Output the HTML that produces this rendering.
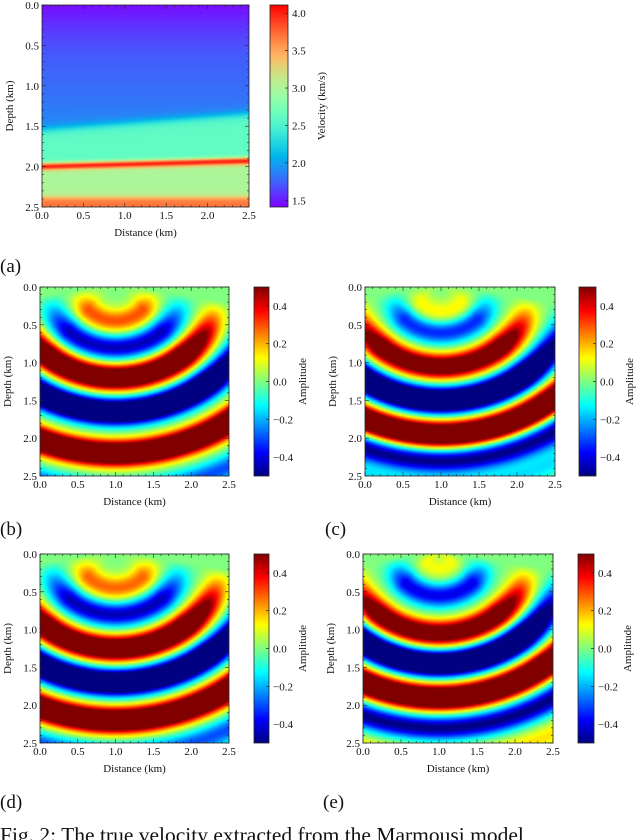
<!DOCTYPE html>
<html><head><meta charset="utf-8"><style>
html,body{margin:0;padding:0;background:#fff;width:640px;height:840px;overflow:hidden}
#wrap{position:relative;width:640px;height:840px}
canvas{position:absolute;image-rendering:auto}
svg{position:absolute;left:0;top:0}
text{font-family:"Liberation Serif",serif;fill:#111}
</style></head><body>
<div id="wrap">
<svg id="svg" width="640" height="840"></svg>
</div>
<script>
// ---- data ----
const depthTicks = [0.0, 0.5, 1.0, 1.5, 2.0, 2.5];
const distTicks = [0.0, 0.5, 1.0, 1.5, 2.0, 2.5];
const velTicks = [1.5, 2.0, 2.5, 3.0, 3.5, 4.0];
const ampTicks = [-0.4, -0.2, 0.0, 0.2, 0.4];
const velRange = [1.41, 4.11];
const ampRange = [-0.5, 0.5];
// velocity model (depths in km at x=0 and x=2.5)
const topGradDepth = [0.0, 0.3, 0.6, 1.2, 1.5];
const topGradVel = [1.45, 1.6, 1.72, 1.82, 1.9];
const boundaryLeft = [1.55, 2.0, 2.38];
const boundaryRight = [1.35, 1.93, 2.38];
const layerVel = [2.6, 3.0, 3.7];
const bandVel = 4.02;
// wavefield rings (radius km, amplitude)
const ringRadiusB = [0.40, 0.75, 1.15, 1.60, 2.15, 2.65];
const ringAmpB = [0.3, -0.45, 0.85, -0.95, 0.95, -0.3];
const ringRadiusC = [0.30, 0.55, 1.00, 1.45, 1.90, 2.25, 2.60];
const ringAmpC = [0.15, -0.35, 0.7, -0.95, 0.95, -0.5, -0.15];
const ringRadiusD = [0.40, 0.75, 1.20, 1.65, 2.15, 2.60];
const ringAmpD = [0.28, -0.45, 0.85, -0.95, 0.95, -0.3];
const ringRadiusE = [0.15, 0.50, 1.00, 1.40, 1.85, 2.25, 2.65];
const ringAmpE = [0.12, -0.4, 0.7, -0.95, 0.95, -0.5, 0.15];

const NS='http://www.w3.org/2000/svg';
const svg=document.getElementById('svg');
const wrap=document.getElementById('wrap');
function mk(tag,attrs,parent){const e=document.createElementNS(NS,tag);for(const k in attrs)e.setAttribute(k,attrs[k]);(parent||svg).appendChild(e);return e;}
function txt(s,x,y,size,anchor,parent,rot){const t=mk('text',{x:x,y:y,'font-size':size,'text-anchor':anchor||'middle'},parent);if(rot)t.setAttribute('transform','rotate(-90 '+x+' '+y+')');t.textContent=s;return t;}
const cl=v=>Math.max(0,Math.min(1,v));
function jet(t){t=cl(t);const r=cl(1.5-Math.abs(4*t-3)),g=cl(1.5-Math.abs(4*t-2)),b=cl(1.5-Math.abs(4*t-1));return[r*255,g*255,b*255];}
function rainbow(t){t=cl(t);return[cl(Math.abs(2*t-0.5))*255,cl(Math.sin(Math.PI*t))*255,cl(Math.cos(Math.PI/2*t))*255];}
const sig=v=>1/(1+Math.exp(-v));
function interp(xs,ys,x){if(x<=xs[0])return ys[0];for(let i=1;i<xs.length;i++){if(x<=xs[i]){const f=(x-xs[i-1])/(xs[i]-xs[i-1]);return ys[i-1]+f*(ys[i]-ys[i-1]);}}return ys[ys.length-1];}
function velocity(x,z){const t=x/2.5;const b=boundaryLeft.map((v,i)=>v+t*(boundaryRight[i]-v));
 let base=interp(topGradDepth,topGradVel,z);
 base+= (layerVel[0]-base)*sig((z-b[0])/0.03);
 base+= (layerVel[1]-layerVel[0])*sig((z-b[1])/0.02);
 base+= (layerVel[2]-layerVel[1])*sig((z-b[2])/0.02);
 return base+(bandVel-base)*Math.exp(-Math.pow((z-b[1])/0.045,2));}
function wave(radii,amps){return function(x,z){const dx=(x-1.0)*0.85,dz=z-0.05;const r=Math.sqrt(dx*dx+dz*dz);let s=0;for(let i=0;i<radii.length;i++)s+=amps[i]*Math.exp(-Math.pow((r-radii[i])/0.16,2));const f=cl(((dz+0.1)/(r+0.01)-0.2)*1.6);return s*f;};}

function heat(name,x0,y0,w,h,fn,cmap,range){const c=document.createElement('canvas');c.width=125;c.height=125;c.style.left=x0+'px';c.style.top=y0+'px';c.style.width=w+'px';c.style.height=h+'px';
 
 
 wrap.insertBefore(c,svg);const ctx=c.getContext('2d');const im=ctx.createImageData(125,125);
 for(let j=0;j<125;j++)for(let i=0;i<125;i++){const x=(i+0.5)/125*2.5,z=(j+0.5)/125*2.5;const v=fn(x,z);const col=cmap((v-range[0])/(range[1]-range[0]));const k=(j*125+i)*4;im.data[k]=col[0];im.data[k+1]=col[1];im.data[k+2]=col[2];im.data[k+3]=255;}
 ctx.putImageData(im,0,0);}
function cbar(name,x0,y0,w,h,cmap,range,ticks,fmt,label,g){const c=document.createElement('canvas');c.width=1;c.height=200;c.style.left=x0+'px';c.style.top=y0+'px';c.style.width=w+'px';c.style.height=h+'px';
 
 
 wrap.insertBefore(c,svg);const ctx=c.getContext('2d');for(let j=0;j<200;j++){const col=cmap(1-(j+0.5)/200);ctx.fillStyle='rgb('+col.map(Math.round).join(',')+')';ctx.fillRect(0,j,1,1);}
 mk('rect',{x:x0,y:y0,width:w,height:h,fill:'none',stroke:'#222','stroke-width':0.8},g);
 const ys=v=>y0+h-(v-range[0])/(range[1]-range[0])*h;
 ticks.forEach(v=>{const y=ys(v);mk('line',{x1:x0+w-3,x2:x0+w,y1:y,y2:y,stroke:'#222','stroke-width':0.7},g);const t=txt(fmt(v),x0+w+4,y+4,11,'start',g);
  
  });
 const l=txt(label,x0+w+37,y0+h/2,11,'middle',g,true);
 
 }
function axes(x0,y0,w,h,g){mk('rect',{x:x0,y:y0,width:w,height:h,fill:'none',stroke:'#222','stroke-width':0.8},g);
 const xs=v=>x0+v/2.5*w,ys=v=>y0+v/2.5*h;
 for(let k=0;k<=25;k++){const v=k/10,len=k%5===0?4:2;const X=xs(v),Y=ys(v);
  mk('line',{x1:X,x2:X,y1:y0+h,y2:y0+h-len,stroke:'#222','stroke-width':0.6},g);
  mk('line',{x1:X,x2:X,y1:y0,y2:y0+len,stroke:'#222','stroke-width':0.6},g);
  mk('line',{x1:x0,x2:x0+len,y1:Y,y2:Y,stroke:'#222','stroke-width':0.6},g);
  mk('line',{x1:x0+w,x2:x0+w-len,y1:Y,y2:Y,stroke:'#222','stroke-width':0.6},g);}
 distTicks.forEach(v=>{const t=txt(v.toFixed(1),xs(v),y0+h+12,11,'middle',g);
  
  });
 depthTicks.forEach(v=>{const t=txt(v.toFixed(1),x0-3,ys(v)+4,11,'end',g);
  
  });
 const xl=txt('Distance (km)',x0+w/2,y0+h+29,11,'middle',g);
 
 
 const yl=txt('Depth (km)',x0-29,y0+h/2,11,'middle',g,true);
 
 }
const fmtA=v=>(v<0?'\u2212':'')+Math.abs(v).toFixed(1);
function panel(id,label,lx,ly,x0,y0,w,h,cx,cw,fn,cmap,range,ticks,fmt,ctitle){
 const g=mk('g',{});
 
 
 heat('heatmap-'+id,x0,y0,w,h,fn,cmap,range);
 axes(x0,y0,w,h,g);
 cbar('colorbar-'+id,cx,y0,cw,h,cmap,range,ticks,fmt,ctitle,g);
 const t=txt('('+label+')',lx,ly,19,'start',g);
 
 }
panel('a','a',0,272,42,5,207,202,270,18,velocity,rainbow,velRange,velTicks,v=>v.toFixed(1),'Velocity (km/s)');
panel('b','b',0,535,40,287,189,189,254,15,wave(ringRadiusB,ringAmpB),jet,ampRange,ampTicks,fmtA,'Amplitude');
panel('c','c',325,535,365,287,190,189,579,17,wave(ringRadiusC,ringAmpC),jet,ampRange,ampTicks,fmtA,'Amplitude');
panel('d','d',0,808,40,554,189,189,254,15,wave(ringRadiusD,ringAmpD),jet,ampRange,ampTicks,fmtA,'Amplitude');
panel('e','e',323,808,363,554,190,189,578,16,wave(ringRadiusE,ringAmpE),jet,ampRange,ampTicks,fmtA,'Amplitude');
const cap=txt('Fig. 2: The true velocity extracted from the Marmousi model',0,842,21.5,'start');


</script>
</body></html>
